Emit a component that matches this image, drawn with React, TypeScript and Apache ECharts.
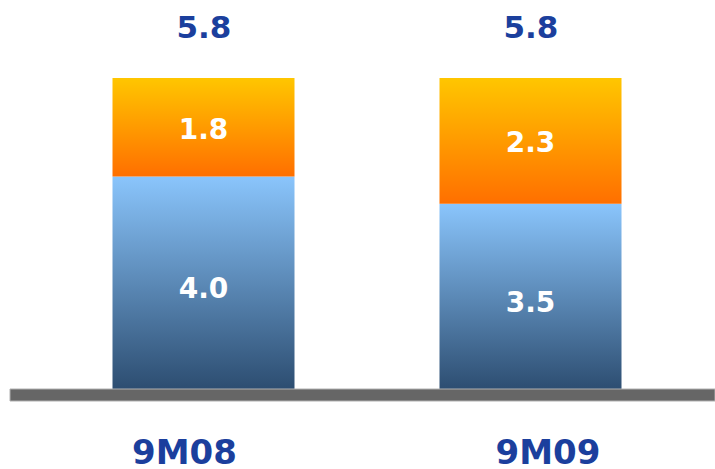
import React, { useEffect, useRef } from "react";
import * as echarts from "echarts";

const categories = ["9M08", "9M09"];
const baseValues = [4.0, 3.5];
const topValues = [1.8, 2.3];
const totalValues = [5.8, 5.8];

const BLUE_TEXT = "#1b3f9d";
const FONT = "DejaVu Sans";

export default function App() {
  const ref = useRef<HTMLDivElement>(null);

  useEffect(() => {
    document.body.style.margin = "0";
    if (!ref.current) return;
    const chart = echarts.init(ref.current, null, { renderer: "svg" });
    chart.setOption({
      animation: false,
      backgroundColor: "#ffffff",
      grid: [
        { left: 40, right: 21, top: 78, bottom: 74 },
        { left: 184.5, right: 167, top: 0, bottom: 31 },
      ],
      xAxis: [
        {
          type: "category",
          data: categories,
          gridIndex: 0,
          axisLine: { show: false },
          axisTick: { show: false },
          axisLabel: { show: false },
        },
        {
          type: "category",
          data: categories,
          gridIndex: 1,
          boundaryGap: false,
          axisLine: { show: false },
          axisTick: { show: false },
          axisLabel: {
            show: true,
            interval: 0,
            margin: 2,
            color: BLUE_TEXT,
            fontFamily: FONT,
            fontWeight: "bold",
            fontSize: 34,
          },
        },
      ],
      yAxis: [
        { type: "value", gridIndex: 0, min: 0, max: 5.8, show: false },
        { type: "value", gridIndex: 1, show: false },
      ],
      graphic: [
        {
          type: "rect",
          z: 100,
          shape: { x: 10, y: 389, width: 705, height: 12 },
          style: { fill: "#666666", stroke: "#b0b0b0", lineWidth: 1 },
        },
      ],
      series: [
        {
          type: "bar",
          stack: "s",
          barWidth: 182,
          data: baseValues,
          itemStyle: {
            color: new echarts.graphic.LinearGradient(0, 0, 0, 1, [
              { offset: 0, color: "#8ac5fc" },
              { offset: 1, color: "#2a4a6d" },
            ]),
          },
          label: {
            show: true,
            position: "inside",
            offset: [0, 3],
            color: "#ffffff",
            fontFamily: FONT,
            fontWeight: "bold",
            fontSize: 28,
            formatter: (p: any) => Number(p.value).toFixed(1),
          },
        },
        {
          type: "bar",
          stack: "s",
          barWidth: 182,
          data: topValues,
          itemStyle: {
            color: new echarts.graphic.LinearGradient(0, 0, 0, 1, [
              { offset: 0, color: "#ffc600" },
              { offset: 1, color: "#ff6f00" },
            ]),
          },
          label: {
            show: true,
            position: "inside",
            offset: [0, 2],
            color: "#ffffff",
            fontFamily: FONT,
            fontWeight: "bold",
            fontSize: 28,
            formatter: (p: any) => Number(p.value).toFixed(1),
          },
        },
        {
          type: "scatter",
          symbolSize: 0,
          silent: true,
          data: totalValues,
          itemStyle: { color: "#ffffff", opacity: 1 },
          label: {
            show: true,
            position: "top",
            distance: 36,
            offset: [0.4, 0],
            opacity: 1,
            color: BLUE_TEXT,
            fontFamily: FONT,
            fontWeight: "bold",
            fontSize: 31,
            formatter: (p: any) => Number(p.value).toFixed(1),
          },
        },
      ],
    });
    return () => chart.dispose();
  }, []);

  return <div ref={ref} style={{ width: 715, height: 469 }} />;
}
